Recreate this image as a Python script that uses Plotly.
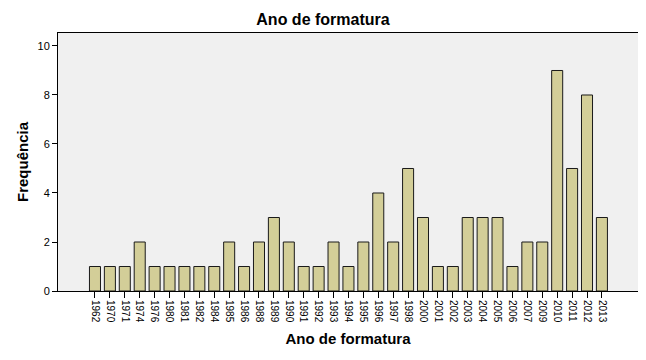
import plotly.graph_objects as go

years = ["1962","1970","1971","1974","1976","1980","1981","1982","1984","1985","1986","1988","1989","1990",
         "1991","1992","1993","1994","1995","1996","1997","1998","2000","2001","2002","2003","2004","2005",
         "2006","2007","2009","2010","2011","2012","2013"]
freq = [1,1,1,2,1,1,1,1,1,2,1,2,3,2,1,1,2,1,2,4,2,5,3,1,1,3,3,3,1,2,2,9,5,8,3]

fig = go.Figure()
fig.add_trace(go.Bar(
    x=list(range(len(years))), y=freq, width=0.74,
    marker=dict(color="#D3CE98", line=dict(color="#1a1a1a", width=1)),
))

fig.update_layout(
    width=646, height=360,
    margin=dict(l=50, r=16, t=25, b=77, autoexpand=False),
    paper_bgcolor="white", plot_bgcolor="#F0F0F0",
    font=dict(family="Liberation Sans, Arial, sans-serif", color="black", size=11),
    title=dict(text="<b>Ano de formatura</b>", x=0.4876, xref="container", xanchor="center",
               y=0.967, yref="container", yanchor="middle", font=dict(size=16)),
    showlegend=False,
)
fig.update_xaxes(
    tickmode="array", tickvals=list(range(len(years))), ticktext=years,
    tickangle=90, range=[-2.48, 36.42],
    ticks="outside", ticklen=6, tickcolor="black", tickfont=dict(size=10),
    showline=True, linecolor="black", mirror=True, linewidth=1, showgrid=False, zeroline=False,
    title=dict(text="<b>Ano de formatura</b>", font=dict(size=15), standoff=11),
)
fig.update_yaxes(
    range=[0, 10.53], tickvals=[0, 2, 4, 6, 8, 10],
    ticks="outside", ticklen=5, tickcolor="black", tickfont=dict(size=11),
    showline=True, linecolor="black", mirror=True, linewidth=1, showgrid=False, zeroline=False,
    title=dict(text="<b>Frequência</b>", font=dict(size=15), standoff=5),
)

fig.write_html("out.html")
